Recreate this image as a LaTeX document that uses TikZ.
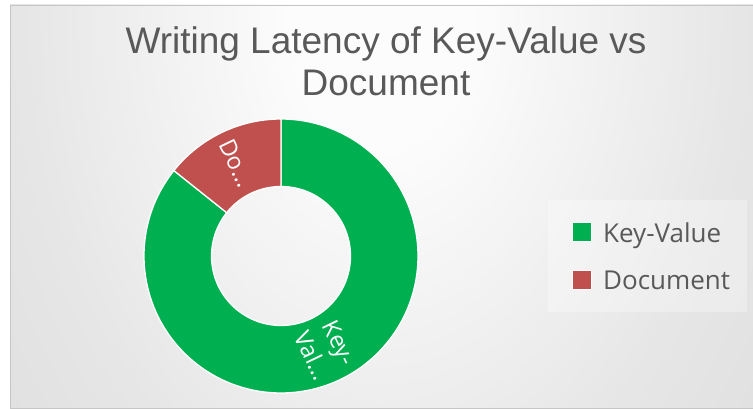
\documentclass[tikz,border=0pt]{standalone}
\usepackage{fontspec}
\setmainfont{Liberation Sans}
\newfontfamily\legfont{Open Sans}
\definecolor{kvgreen}{HTML}{00B050}
\definecolor{docred}{HTML}{C0504D}
\definecolor{txtgray}{HTML}{595959}
\definecolor{bgA}{HTML}{FCFCFC}
\definecolor{bgB}{HTML}{E6E6E6}
\definecolor{bgC}{HTML}{DCDCDC}
\definecolor{bgD}{HTML}{CDCDCD}
\definecolor{bgE}{HTML}{C3C3C3}
\pgfdeclareradialshading{bgshade}{\pgfpoint{0bp}{0bp}}{color(0bp)=(bgA); color(4bp)=(bgA); color(16bp)=(bgB); color(25bp)=(bgC); color(33bp)=(bgD); color(42bp)=(bgE); color(50bp)=(bgE)}
\tikzset{
  slice/.style={draw=white, line width=1.3pt, line join=round},
  titletext/.style={inner sep=0pt, text=txtgray, font=\fontsize{37}{42}\selectfont, anchor=base},
  legtext/.style={inner sep=0pt, text=txtgray, font=\legfont\fontsize{26}{30}\selectfont, anchor=base west},
  legkey/.style={draw=white, line width=0.8pt},
  datalabel/.style={inner sep=0pt, text=white, font=\legfont\fontsize{23.5}{30}\selectfont, align=center, rotate=-64.3}
}
\begin{document}
\begin{tikzpicture}[x=1pt, y=1pt]
\useasboundingbox (0,0) rectangle (753,409);
\fill[white] (0,0) rectangle (753,409);
\begin{scope}
  \clip (10,1) rectangle (753,404);
  \shade[shading=bgshade] (381,389) ellipse [x radius=560, y radius=800];
\end{scope}
\draw[gray!45, line width=0.8pt] (10,1) rectangle (753,404);

% title
\node[titletext] (title1) at (386,355) {Writing Latency of Key-Value vs};
\node[titletext] (title2) at (386,313) {Document};

% donut
\begin{scope}[shift={(281,153)}]
  \coordinate (c) at (0,0);
  \filldraw[slice, fill=kvgreen] (141.43:137) arc[start angle=141.43, end angle=450, radius=137]
    -- (90:69.5) arc[start angle=90, end angle=-218.57, radius=69.5] -- cycle;
  \filldraw[slice, fill=docred] (90:137) arc[start angle=90, end angle=141.43, radius=137]
    -- (141.43:69.5) arc[start angle=141.43, end angle=90, radius=69.5] -- cycle;
  \node[datalabel] (lbldoc) at (115.7:103.25) {Do…};
  \node[datalabel] (lblkv) at (-64.3:103.25) {Key-\\Val…};
\end{scope}

% legend
\fill[white, opacity=0.3] (548,97) rectangle (747,209);
\filldraw[legkey, fill=kvgreen] (572,168) rectangle (591,187);
\node[legtext] (legkv) at (603,166) {Key-Value};
\filldraw[legkey, fill=docred] (572,120) rectangle (591,139);
\node[legtext] (legdoc) at (603,119) {Document};
\end{tikzpicture}
\end{document}
